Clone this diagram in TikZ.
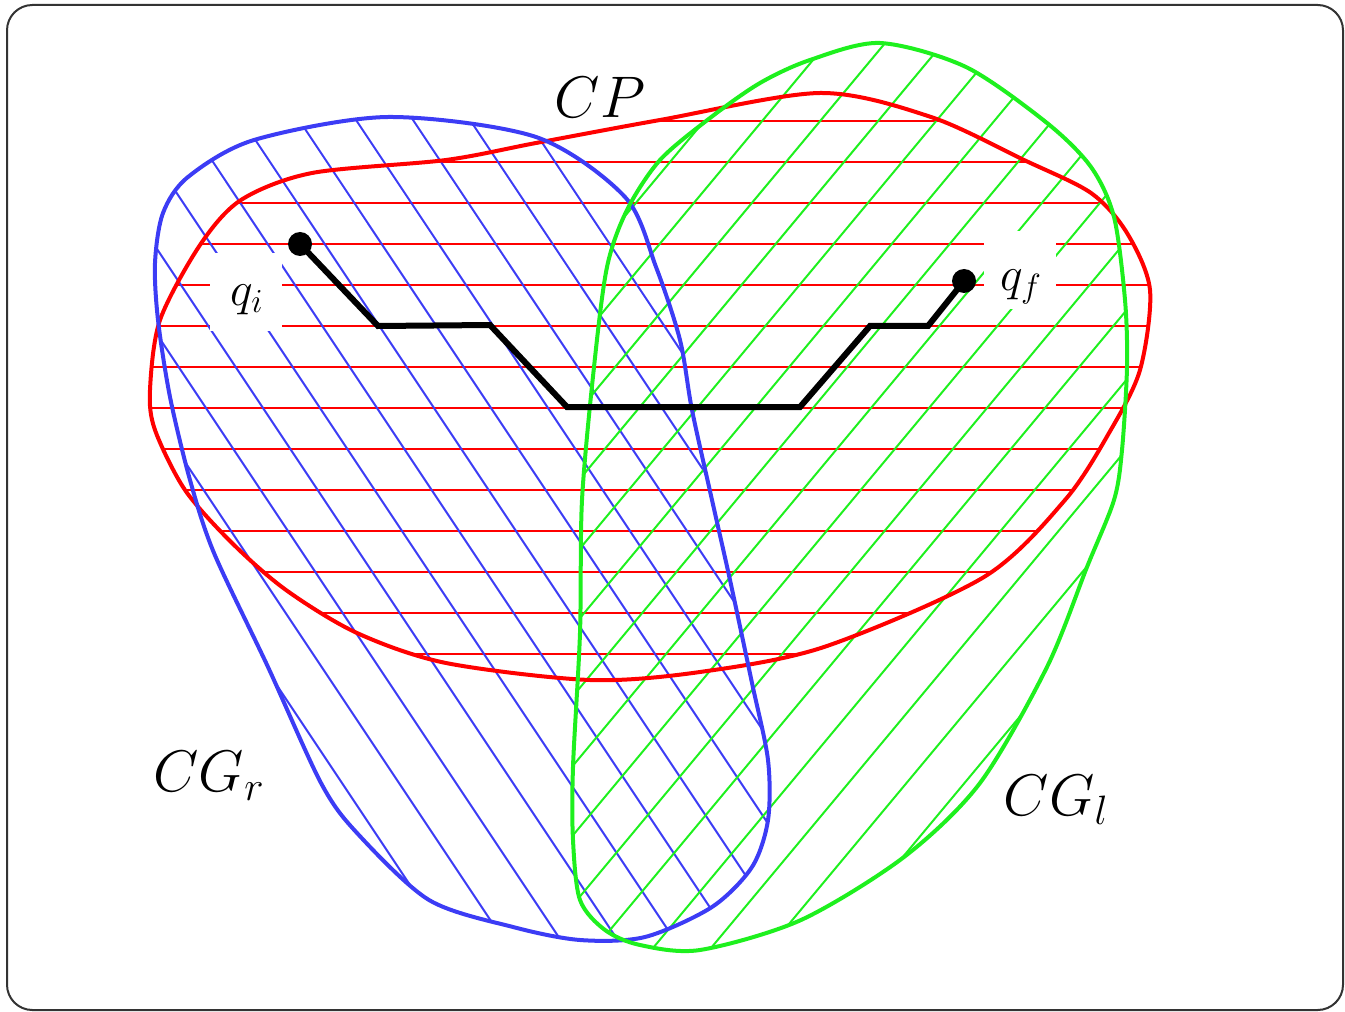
\RequirePackage{fix-cm}
\documentclass[tikz,border=0pt]{standalone}
\usetikzlibrary{calc}

\definecolor{cpred}{RGB}{255,0,0}
\definecolor{grblue}{RGB}{60,60,245}
\definecolor{glgreen}{RGB}{30,240,30}

\begin{document}
\begin{tikzpicture}[x=0.75pt,y=-0.75pt,
  outline/.style={line width=3pt},
  hatch/.style={line width=1.5pt},
  route/.style={line width=4.5pt,line join=miter},
  bigtext/.style={font=\fontsize{44}{48}\selectfont,inner sep=0pt},
  smalltext/.style={font=\fontsize{36}{40}\selectfont,inner sep=0pt},
  qbox/.style={fill=white,minimum width=54pt,minimum height=59pt,inner sep=0pt}]

\useasboundingbox (0,0) rectangle (1345,1012);
\draw[black!80,line width=1.5pt,rounded corners=19pt] (7,5) rectangle (1343,1010);

\path[save path=\cpshape] plot[smooth cycle] coordinates {
  (150,390) (160,320) (200,245) (241,200) (312,173) (446,160) (536,143)
  (660,120) (820,93) (931,117) (1024,160) (1091,193) (1127,233) (1150,290)
  (1140,370) (1109,433) (1065,500) (984,577) (824,647) (700,672) (590,680)
  (446,663) (357,633) (286,590) (232,543) (185,490) (155,430)};
\path[save path=\grshape] plot[smooth cycle] coordinates {
  (388,117) (536,137) (625,197) (656,267) (680,340) (692,410) (712,500)
  (730,580) (752,683) (768,760) (768,820) (752,867) (712,907) (645,937)
  (580,940) (513,927) (429,900) (357,833) (321,783) (268,667) (214,553)
  (190,480) (170,397) (158,320) (155,263) (163,213) (188,177) (254,140)};
\path[save path=\glshape] plot[smooth cycle] coordinates {
  (880,43) (966,67) (1047,123) (1091,167) (1114,217) (1125,300) (1127,367)
  (1122,450) (1114,500) (1087,567) (1047,667) (980,783) (904,857) (801,920)
  (700,950) (640,945) (605,930) (580,900) (573,840) (573,767) (580,633)
  (582,500) (594,367) (607,267) (627,210) (660,160) (710,118) (760,83)
  (810,60)};

\begin{scope}
  \clip[use path=\cpshape];
  \foreach \yy in {121,162,...,654}
    \draw[hatch,cpred] (140,\yy) -- (1160,\yy);
\end{scope}
\begin{scope}
  \clip[use path=\grshape];
  \foreach \k in {-2,...,11}{
    \pgfmathsetmacro\c{-123+57*\k}
    \draw[hatch,grblue] ({\c+66.7},100) -- ({\c+640},960);
  }
\end{scope}
\begin{scope}
  \clip[use path=\glshape];
  \foreach \k in {-11,...,5}{
    \pgfmathsetmacro\d{1385+58*\k}
    \draw[hatch,glgreen] ({\d-25},30) -- ({\d-800},960);
  }
\end{scope}

\draw[outline,cpred,use path=\cpshape];
\draw[outline,grblue,use path=\grshape];
\draw[outline,glgreen,use path=\glshape];

\coordinate (Qi) at (300,244);
\coordinate (Qf) at (964,281);
\draw[route] (Qi) -- (378,326) -- (490,325) -- (567,407) -- (800,407)
  -- (870,326) -- (928,326) -- (Qf);
\fill (Qi) circle (9pt);
\fill (Qf) circle (9pt);

\node[qbox] (qibox) at (246,292) {};
\node[smalltext] (qi) at (247,300) {$q_i$};
\node[qbox] (qfbox) at (1020,270) {};
\node[smalltext] (qf) at (1021,287) {$q_f$};

\node[bigtext] (CP) at (600,97) {$CP$};
\node[bigtext] (CGr) at (209,776) {$CG_r$};
\node[bigtext] (CGl) at (1056,800) {$CG_l$};

\end{tikzpicture}
\end{document}
